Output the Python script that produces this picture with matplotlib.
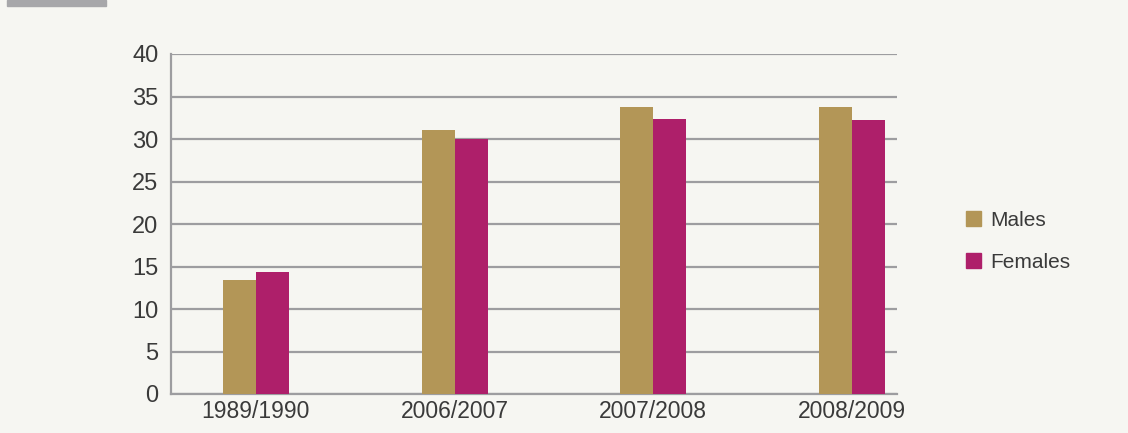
import matplotlib.pyplot as plt
import matplotlib.patches as mpatches
import numpy as np

years = ['1989/1990', '2006/2007', '2007/2008', '2008/2009']
males = [13.4, 31.1, 33.8, 33.8]
females = [14.3, 30.0, 32.4, 32.2]

bg = '#f6f6f2'
grid = '#9d9da0'
c_m = '#b39657'
c_f = '#ae1f6a'
txt = '#3a3a3a'

plt.rcParams['font.family'] = ['Liberation Sans', 'DejaVu Sans']

fig = plt.figure(figsize=(11.28, 4.33), dpi=100, facecolor=bg)
ax = fig.add_axes([171 / 1128, 1 - 394 / 433, (897 - 171) / 1128, (394 - 54) / 433])
ax.set_facecolor(bg)

x = np.arange(len(years))
w = 0.166
ax.bar(x - w / 2, males, w, color=c_m, label='Males', zorder=3)
ax.bar(x + w / 2, females, w, color=c_f, label='Females', zorder=3)

ax.set_ylim(0, 40)
ax.set_xlim(-0.427, 3.226)
ax.set_yticks(range(0, 41, 5))
ax.set_xticks(x)
ax.set_xticklabels(years, fontsize=16.5, color=txt)
ax.tick_params(axis='y', length=0, pad=9, labelsize=17, labelcolor=txt)
ax.tick_params(axis='x', length=0, pad=4)
ax.yaxis.grid(True, color=grid, linewidth=1.6, zorder=0)
for s in ['top', 'right']:
    ax.spines[s].set_visible(False)
for s in ['left', 'bottom']:
    ax.spines[s].set_color(grid)
    ax.spines[s].set_linewidth(1.6)

handles = [mpatches.Patch(color=c_m, label='Males'),
           mpatches.Patch(color=c_f, label='Females')]
fig.legend(handles=handles, loc='upper left', bbox_to_anchor=(947 / 1128, 1 - 192 / 433),
           frameon=False, fontsize=15, handlelength=0.75, handleheight=0.75,
           handletextpad=0.45, labelspacing=1.1, labelcolor=txt)

# gray tab at the top left
fig.patches.append(mpatches.Rectangle((7 / 1128, 1 - 6 / 433), 99 / 1128, 6 / 433,
                                      transform=fig.transFigure, color='#a7a7aa'))

fig.savefig('out.png', dpi=100, facecolor=bg)
